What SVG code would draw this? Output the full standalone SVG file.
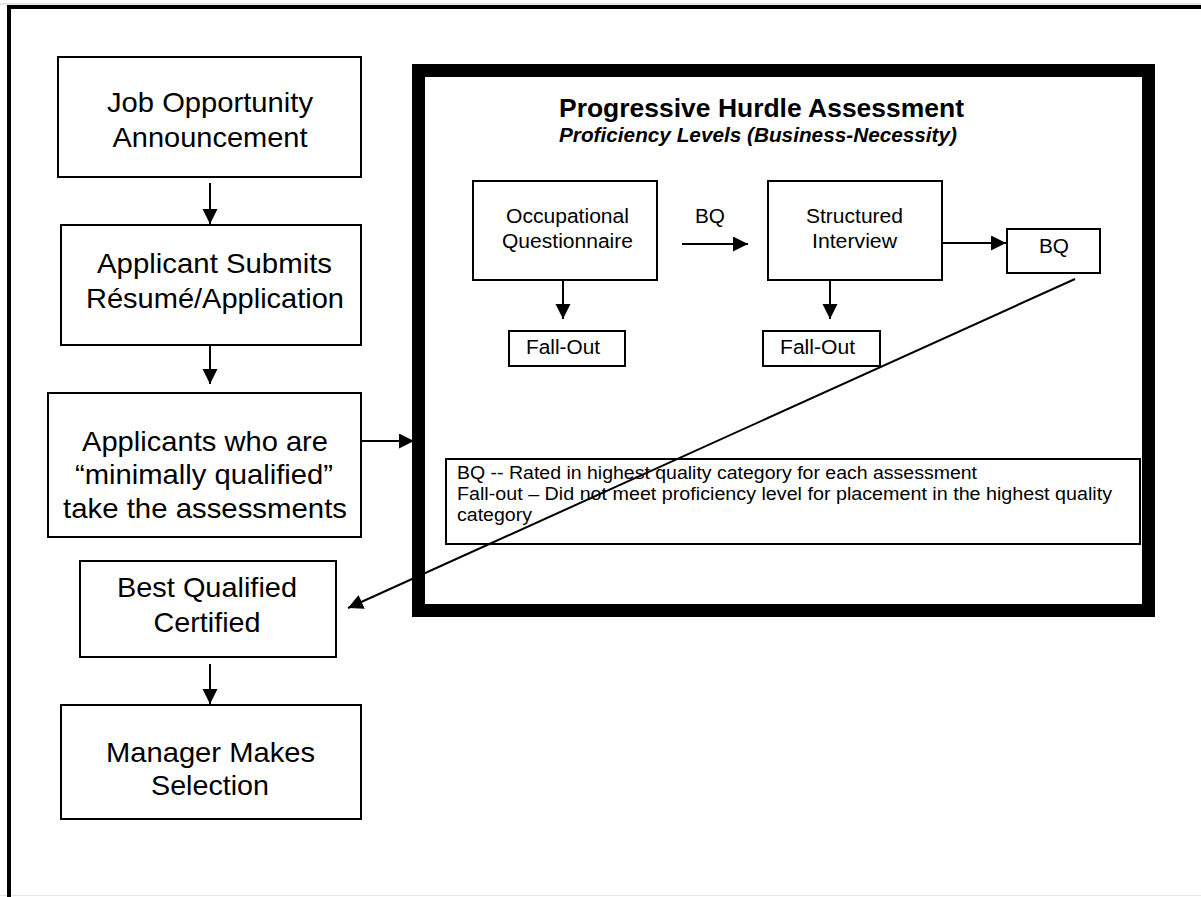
<svg xmlns="http://www.w3.org/2000/svg" width="1201" height="897" viewBox="0 0 1201 897">
<defs>
<style>
.box{fill:#fff;stroke:#000;stroke-width:2}
.t{font-family:"Liberation Sans",Arial,sans-serif;fill:#000}
.big{font-size:28px;text-anchor:middle}
.mid{font-size:20px;text-anchor:middle}
.leg{font-size:17.5px}
.ln{fill:none;stroke:#000;stroke-width:2}
</style>
<marker id="ah" markerUnits="userSpaceOnUse" markerWidth="16" markerHeight="16" refX="15" refY="7.5" orient="auto">
<path d="M0,0 L15,7.5 L0,15 z" fill="#000"/>
</marker>
</defs>
<rect x="0" y="0" width="1201" height="897" fill="#fff"/>
<line x1="0" y1="4" x2="1201" y2="4" stroke="#d0d0d0" stroke-width="1"/>
<line x1="0" y1="895.5" x2="1201" y2="895.5" stroke="#e6e6e6" stroke-width="1"/>
<path d="M9,897 L9,7 L1201,7" fill="none" stroke="#000" stroke-width="4"/>

<g id="frame">
<rect x="418.5" y="70.5" width="730" height="540" fill="#fff" stroke="#000" stroke-width="13"/>
<text class="t" x="761.5" y="117" font-size="25" font-weight="bold" text-anchor="middle" textLength="405" lengthAdjust="spacingAndGlyphs">Progressive Hurdle Assessment</text>
<text class="t" x="758" y="142" font-size="20" font-weight="bold" font-style="italic" text-anchor="middle" textLength="398" lengthAdjust="spacingAndGlyphs">Proficiency Levels (Business-Necessity)</text>
</g>

<g id="job">
<rect class="box" x="58" y="57" width="303" height="120"/>
<text class="t big" x="210" y="112" textLength="206" lengthAdjust="spacingAndGlyphs">Job Opportunity</text>
<text class="t big" x="210" y="147" textLength="195" lengthAdjust="spacingAndGlyphs">Announcement</text>
</g>
<g id="submit">
<rect class="box" x="61" y="225" width="300" height="120"/>
<text class="t big" x="214.5" y="273" textLength="235" lengthAdjust="spacingAndGlyphs">Applicant Submits</text>
<text class="t big" x="215" y="308" textLength="258" lengthAdjust="spacingAndGlyphs">Résumé/Application</text>
</g>
<g id="minimal">
<rect class="box" x="48" y="393" width="313" height="144"/>
<text class="t big" x="205" y="451" textLength="246" lengthAdjust="spacingAndGlyphs">Applicants who are</text>
<text class="t big" x="204" y="484" textLength="258" lengthAdjust="spacingAndGlyphs">“minimally qualified”</text>
<text class="t big" x="205" y="518" textLength="284" lengthAdjust="spacingAndGlyphs">take the assessments</text>
</g>
<g id="bestq">
<rect class="box" x="80" y="561" width="256" height="96"/>
<text class="t big" x="207" y="597" textLength="180" lengthAdjust="spacingAndGlyphs">Best Qualified</text>
<text class="t big" x="207" y="632" textLength="107" lengthAdjust="spacingAndGlyphs">Certified</text>
</g>
<g id="manager">
<rect class="box" x="61" y="705" width="300" height="114"/>
<text class="t big" x="210.5" y="762" textLength="209" lengthAdjust="spacingAndGlyphs">Manager Makes</text>
<text class="t big" x="210" y="795" textLength="118" lengthAdjust="spacingAndGlyphs">Selection</text>
</g>

<g id="oq">
<rect class="box" x="473" y="181" width="184" height="99"/>
<text class="t mid" x="567.5" y="223" textLength="123" lengthAdjust="spacingAndGlyphs">Occupational</text>
<text class="t mid" x="567.5" y="248" textLength="131" lengthAdjust="spacingAndGlyphs">Questionnaire</text>
</g>
<g id="si">
<rect class="box" x="768" y="181" width="174" height="99"/>
<text class="t mid" x="854.5" y="223" textLength="97" lengthAdjust="spacingAndGlyphs">Structured</text>
<text class="t mid" x="854.5" y="248" textLength="85" lengthAdjust="spacingAndGlyphs">Interview</text>
</g>
<g id="bq">
<rect class="box" x="1007" y="229" width="93" height="44"/>
<text class="t mid" x="1054" y="253" textLength="30" lengthAdjust="spacingAndGlyphs">BQ</text>
</g>
<g id="fallout1">
<rect class="box" x="509" y="331" width="116" height="35"/>
<text class="t mid" x="563" y="354" textLength="74" lengthAdjust="spacingAndGlyphs">Fall-Out</text>
</g>
<g id="fallout2">
<rect class="box" x="763" y="331" width="117" height="35"/>
<text class="t mid" x="817.5" y="354" textLength="75" lengthAdjust="spacingAndGlyphs">Fall-Out</text>
</g>
<g id="legend">
<rect class="box" x="446" y="459" width="694" height="85"/>
<text class="t leg" x="457" y="479" textLength="520" lengthAdjust="spacingAndGlyphs">BQ -- Rated in highest quality category for each assessment</text>
<text class="t leg" x="457" y="500" textLength="655" lengthAdjust="spacingAndGlyphs">Fall-out – Did not meet proficiency level for placement in the highest quality</text>
<text class="t leg" x="457" y="521" textLength="75" lengthAdjust="spacingAndGlyphs">category</text>
</g>

<g id="connectors">
<line class="ln" x1="210" y1="183" x2="210" y2="224" marker-end="url(#ah)"/>
<line class="ln" x1="210" y1="345" x2="210" y2="384" marker-end="url(#ah)"/>
<line class="ln" x1="361" y1="441" x2="414" y2="441" marker-end="url(#ah)"/>
<line class="ln" x1="210" y1="664" x2="210" y2="704" marker-end="url(#ah)"/>
<line class="ln" x1="682" y1="244" x2="748" y2="244" marker-end="url(#ah)"/>
<text class="t mid" x="710" y="223" textLength="30" lengthAdjust="spacingAndGlyphs">BQ</text>
<line class="ln" x1="942" y1="243" x2="1006" y2="243" marker-end="url(#ah)"/>
<line class="ln" x1="563" y1="280" x2="563" y2="319" marker-end="url(#ah)"/>
<line class="ln" x1="830" y1="280" x2="830" y2="319" marker-end="url(#ah)"/>
<line class="ln" x1="1075" y1="279" x2="348" y2="608" marker-end="url(#ah)"/>
</g>
</svg>
